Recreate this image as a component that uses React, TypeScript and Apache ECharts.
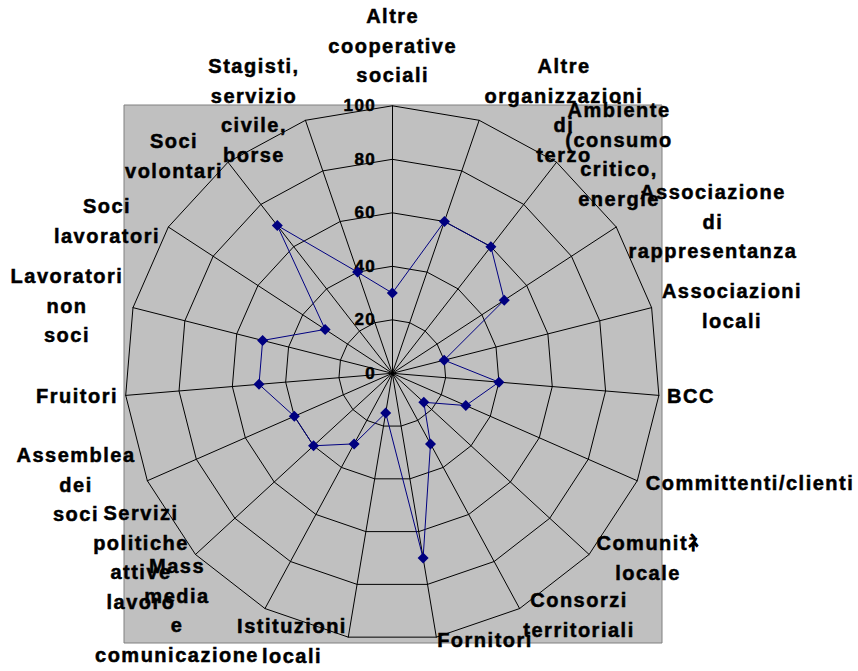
import React, { useEffect, useRef } from "react";
import * as echarts from "echarts";

// ---- data ----
const categories: string[] = [
  "Altre cooperative sociali",
  "Altre organizzazioni di terzo",
  "Ambiente (consumo critico, energie",
  "Associazione di rappresentanza",
  "Associazioni locali",
  "BCC",
  "Committenti/clienti",
  "Comunitﾈ locale",
  "Consorzi territoriali",
  "Fornitori",
  "Istituzioni locali",
  "Mass media e comunicazione",
  "Servizi politiche attive lavoro",
  "Assemblea dei soci",
  "Fruitori",
  "Lavoratori non soci",
  "Soci lavoratori",
  "Soci volontari",
  "Stagisti, servizio civile, borse",
];
const values: number[] = [30, 60, 60, 50, 20, 40, 30, 16, 30, 70, 15, 30, 40, 40, 50, 50, 30, 70, 40];
const axisMin = 0;
const axisMax = 100;
const splitCount = 5;

// ---- layout (label centre x, first line centre y) ----
const labelPos: [number, number][] = [
  [392.7, 16],
  [564, 66],
  [619, 110],
  [713, 192],
  [732, 291],
  [691, 396],
  [750, 483],
  [648, 543],
  [579, 600],
  [485, 640],
  [292, 626],
  [177, 566],
  [141, 513],
  [76, 455],
  [77, 396],
  [67, 276],
  [107, 206],
  [174, 141],
  [254, 66],
];
const LINE_H = 29.5;
const FONT = "'Liberation Sans', Arial, sans-serif";

export default function App() {
  const ref = useRef<HTMLDivElement>(null);
  useEffect(() => {
    if (!ref.current) return;
    const chart = echarts.init(ref.current, undefined, { renderer: "svg" });
    // ECharts radar runs counter-clockwise; reorder so the picture runs clockwise
    const order = [0, ...categories.map((_, i) => i).slice(1).reverse()];
    const tickLabelStyle = {
      color: "#000",
      fontSize: 17,
      fontWeight: "bold",
      fontFamily: FONT,
      margin: 16,
      textBorderColor: "#000",
      textBorderWidth: 0.5,
    };
    const indicator = order.map((i) => {
      const ind: any = { name: categories[i], min: axisMin, max: axisMax };
      if (i === 0) {
        ind.axisLabel = { show: true, ...tickLabelStyle };
      }
      return ind;
    });
    const graphics: any[] = [
      {
        type: "rect",
        z: -10,
        shape: { x: 124, y: 105, width: 538, height: 538 },
        style: { fill: "#C0C0C0", stroke: "#808080", lineWidth: 1 },
      },
      ...categories.map((c, i) => ({
        type: "text",
        z: 100,
        x: labelPos[i][0],
        y: labelPos[i][1] - LINE_H / 2,
        style: {
          text: c.split(" ").join("\n"),
          fill: "#000",
          stroke: "#000",
          lineWidth: 0.5,
          fontSize: 20,
          fontWeight: "bold",
          fontFamily: FONT,
          align: "center",
          verticalAlign: "top",
          lineHeight: LINE_H,
        },
      })),
    ];
    chart.setOption({
      animation: false,
      backgroundColor: "#fff",
      graphic: graphics,
      radar: {
        center: [392.3, 373.3],
        radius: 267.5,
        startAngle: 90,
        splitNumber: splitCount,
        shape: "polygon",
        axisName: { show: false },
        splitLine: { lineStyle: { color: "#000", width: 1 } },
        splitArea: { show: false },
        axisLine: { lineStyle: { color: "#000", width: 1 } },
        axisTick: { show: false },
        axisLabel: { show: false, ...tickLabelStyle },
        indicator,
      },
      series: [
        {
          type: "radar",
          symbol: "diamond",
          symbolSize: 11,
          lineStyle: { color: "#000080", width: 1 },
          itemStyle: { color: "#000080" },
          data: [{ value: order.map((i) => values[i]) }],
        },
      ],
    });
    return () => chart.dispose();
  }, []);
  return (
    <>
      <style>{`.rc text { letter-spacing: 1.5px; }`}</style>
      <div
        ref={ref}
        className="rc"
        style={{ position: "absolute", left: 0, top: 0, width: 858, height: 671 }}
      />
    </>
  );
}
